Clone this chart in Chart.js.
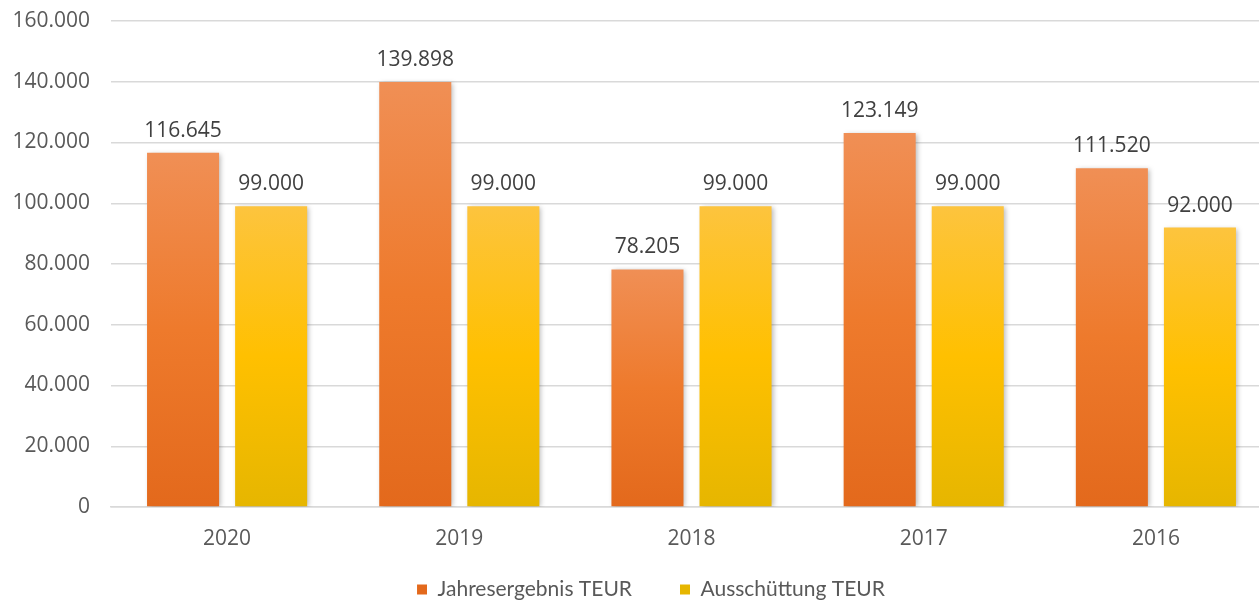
<!DOCTYPE html>
<html>
<head>
<meta charset="utf-8">
<script src="https://cdn.jsdelivr.net/npm/chart.js@4"></script>
<style>
html,body{margin:0;padding:0;background:#fff;overflow:hidden;width:1259px;height:604px;}
#wrap{width:1300px;height:604px;}
</style>
</head>
<body>
<div id="wrap"><canvas id="c" width="1300" height="604"></canvas></div>
<script>
const categories = ['2020', '2019', '2018', '2017', '2016'];
const jahresergebnis = [116645, 139898, 78205, 123149, 111520];
const ausschuettung = [99000, 99000, 99000, 99000, 92000];
const seriesNames = ['Jahresergebnis TEUR', 'Ausschüttung TEUR'];
const yTicks = [0, 20000, 40000, 60000, 80000, 100000, 120000, 140000, 160000];

function fmt(v){ return String(v).replace(/\B(?=(\d{3})+(?!\d))/g, '.'); }

function grad(stops, solid){
  return (ctx) => {
    const chart = ctx.chart;
    if (!chart.chartArea || ctx.type !== 'data' || !chart.scales.y) return solid;
    const y = chart.scales.y;
    const top = y.getPixelForValue(ctx.raw);
    const base = y.getPixelForValue(0);
    if (!isFinite(top) || !isFinite(base) || top === base) return solid;
    const g = chart.ctx.createLinearGradient(0, top, 0, base);
    stops.forEach(([o, c]) => g.addColorStop(o, c));
    return g;
  };
}

const tweakPlugin = {
  id: 'tweak',
  afterLayout(chart){
    chart.scales.x.bottom = chart.height;
    const lg = chart.legend;
    if (lg) { lg.top += 6; lg.bottom += 6; lg.left += 15; lg.right += 15; }
  }
};

const shadowPlugin = {
  id: 'shadow',
  beforeDatasetsDraw(chart){
    const c = chart.ctx; c.save();
    c.shadowColor = 'rgba(0,0,0,0.28)';
    c.shadowBlur = 5; c.shadowOffsetX = 2; c.shadowOffsetY = 1;
  },
  afterDatasetsDraw(chart){ chart.ctx.restore(); }
};

const labelPlugin = {
  id: 'valueLabels',
  afterDraw(chart){
    const c = chart.ctx; c.save();
    c.font = '21px "Open Sans"';
    c.fillStyle = '#404040';
    c.textAlign = 'center'; c.textBaseline = 'alphabetic';
    chart.data.datasets.forEach((ds, i) => {
      chart.getDatasetMeta(i).data.forEach((bar, j) => {
        c.fillText(fmt(ds.data[j]), bar.x, bar.y - 16);
      });
    });
    c.restore();
  }
};

new Chart(document.getElementById('c'), {
  type: 'bar',
  data: {
    labels: categories,
    datasets: [
      { label: seriesNames[0], data: jahresergebnis,
        backgroundColor: grad([[0,'#F08F55'],[0.5,'#EE7A2C'],[1,'#E3691C']], '#EE7A2C') },
      { label: seriesNames[1], data: ausschuettung,
        backgroundColor: grad([[0,'#FDC43E'],[0.5,'#FFC000'],[1,'#E6B600']], '#FFC000') }
    ]
  },
  options: {
    responsive: false,
    animation: false,
    devicePixelRatio: 1,
    categoryPercentage: 0.7586,
    barPercentage: 0.818,
    layout: { padding: { left: 0, right: 28, top: 21, bottom: 0 } },
    scales: {
      x: {
        grid: { display: false, drawTicks: false },
        border: { display: true, color: '#D9D9D9', width: 1.5 },
        ticks: { color: '#595959', font: { family: '"Open Sans"', size: 21 }, padding: 19 },
        afterFit(s){ s.height = 18; }
      },
      y: {
        min: 0, max: 160000,
        afterBuildTicks(s){ s.ticks = yTicks.map(v => ({ value: v })); },
        grid: { color: '#D9D9D9', lineWidth: 1.5, drawTicks: false },
        border: { display: false },
        ticks: { color: '#595959', font: { family: '"Open Sans"', size: 21 }, padding: 21,
                 callback: (v) => fmt(v) },
        afterFit(s){ s.width = 111; s.paddingTop = 0; s.paddingBottom = 0; }
      }
    },
    plugins: {
      legend: {
        position: 'bottom',
        labels: { boxWidth: 10, boxHeight: 10, padding: 48, color: '#595959',
                  font: { family: 'Lato', size: 21 } }
      },
      tooltip: { enabled: false }
    }
  },
  plugins: [tweakPlugin, shadowPlugin, labelPlugin]
});
</script>
</body>
</html>
